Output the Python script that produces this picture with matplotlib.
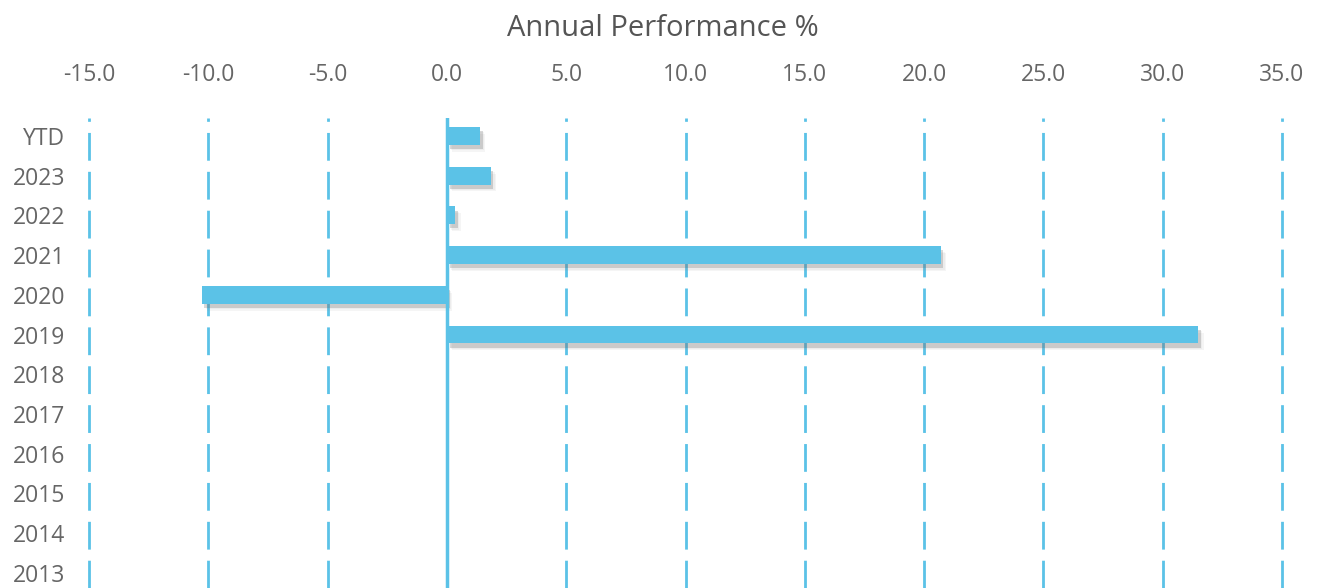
import matplotlib
matplotlib.use("Agg")
import matplotlib.pyplot as plt
import matplotlib.patheffects as pe

# datos
anios = ["YTD", "2023", "2022", "2021", "2020", "2019",
         "2018", "2017", "2016", "2015", "2014", "2013"]
rendimiento = [1.38, 1.83, 0.35, 20.69, -10.28, 31.49,
               0, 0, 0, 0, 0, 0]
ticks_x = [-15, -10, -5, 0, 5, 10, 15, 20, 25, 30, 35]

azul = "#5bc2e7"
gris = "#666666"

plt.rcParams["font.family"] = ["Open Sans", "DejaVu Sans"]

fig = plt.figure(figsize=(13.22, 5.88), dpi=100)
ax = fig.add_axes([89 / 1322, 0, (1282 - 89) / 1322, 1 - 118 / 588])

pos = list(range(len(anios)))

# líneas de grilla discontinuas
for t in ticks_x:
    if t == 0:
        continue
    ax.axvline(t, color=azul, linestyle=(0, (10, 4)), linewidth=2, zorder=1, clip_on=False)

# sombra difusa: varias capas desplazadas
sombra = [
    pe.SimplePatchShadow(offset=(3, -4), shadow_rgbFace="#888888", alpha=0.08),
    pe.SimplePatchShadow(offset=(4, -5), shadow_rgbFace="#888888", alpha=0.08),
    pe.SimplePatchShadow(offset=(2, -3), shadow_rgbFace="#666666", alpha=0.25),
    pe.Normal(),
]
ax.barh(pos, rendimiento, height=0.45, color=azul, zorder=3, path_effects=sombra)

# línea del cero
ax.axvline(0, color=azul, linewidth=2.5, zorder=4)

ax.set_xlim(-15, 35)
ax.set_ylim(11.38, -0.45)
ax.set_xticks(ticks_x)
ax.set_xticklabels([f"{t:.1f}" for t in ticks_x])
ax.set_yticks(pos)
ax.set_yticklabels(anios)
ax.xaxis.tick_top()
ax.tick_params(axis="x", length=0, pad=22, labelsize=16.5, labelcolor=gris)
ax.tick_params(axis="y", length=0, pad=17, labelsize=16.5, labelcolor=gris)
for s in ax.spines.values():
    s.set_visible(False)

fig.text(663 / 1322, 1 - 28 / 588, "Annual Performance %", ha="center", va="center",
         fontsize=21, color="#555555")

fig.savefig("out.png", dpi=100)
plt.close()
